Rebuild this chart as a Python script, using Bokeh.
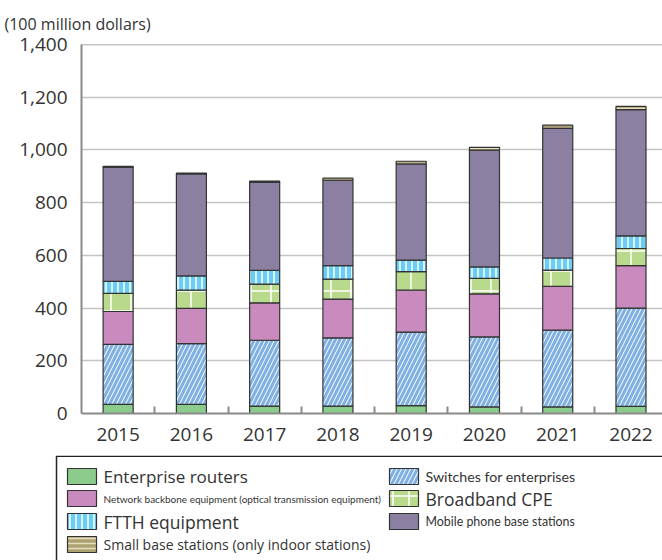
from bokeh.plotting import figure
from bokeh.models import ColumnDataSource, FixedTicker, NumeralTickFormatter, Range1d, Span
from bokeh.embed import file_html
from bokeh.resources import INLINE
from bokeh.core.properties import value

# ---------------- data ----------------
years = ["2015", "2016", "2017", "2018", "2019", "2020", "2021", "2022"]
enterprise_routers = [35, 35, 28, 28, 30, 25, 25, 27]
switches_for_enterprises = [227, 230, 250, 259, 279, 266, 291, 373]
network_backbone = [125, 134, 142, 147, 159, 163, 166, 161]
broadband_cpe = [69, 69, 71, 76, 70, 59, 62, 65]
ftth_equipment = [45, 54, 52, 51, 44, 43, 46, 48]
mobile_base_stations = [434, 387, 334, 324, 365, 443, 492, 479]
small_base_stations = [3, 3, 5, 8, 10, 11, 12, 12]
y_ticks = [0, 200, 400, 600, 800, 1000, 1200, 1400]
unit_label = "(100 million dollars)"
series_labels = [
    "Enterprise routers",
    "Switches for enterprises",
    "Network backbone equipment (optical transmission equipment)",
    "Broadband CPE",
    "FTTH equipment",
    "Mobile phone base stations",
    "Small base stations (only indoor stations)",
]

FONT = "Open Sans"
NARROW = "Lato"
TXT = "#333333"

# ---------------- styles ----------------
keys = ["routers", "switches", "backbone", "broadband", "ftth", "mobile", "small"]
fills = ["#8bcb8c", "#80b1e2", "#c98bbe", "#b9da8d", "#6acdf5", "#8b80a1", "#ada272"]
hatches = [" ", "/", " ", "+", "|", " ", "-"]
hatch_colors = ["white", "white", "white", "white", "white", "white", "#e6dfbd"]
hatch_scales = [6, 9, 6, 20, 6, 6, 5]
hatch_weights = [1, 1, 1, 1.5, 1.5, 1, 1.5]

src = ColumnDataSource(dict(
    x=list(range(len(years))),
    routers=enterprise_routers,
    switches=switches_for_enterprises,
    backbone=network_backbone,
    broadband=broadband_cpe,
    ftth=ftth_equipment,
    mobile=mobile_base_stations,
    small=small_base_stations,
))

p = figure(width=662, height=455, x_range=Range1d(-0.5, 7.43), y_range=Range1d(0, 1400),
           toolbar_location=None, output_backend="svg",
           min_border_left=81, min_border_right=0, min_border_top=43, min_border_bottom=42)
p.outline_line_color = None
p.background_fill_color = "white"
p.border_fill_color = "white"

p.vbar_stack(keys, x="x", width=0.41, source=src,
             fill_color=fills, line_color="#333333", line_width=1.2,
             hatch_pattern=hatches, hatch_color=hatch_colors,
             hatch_scale=hatch_scales, hatch_weight=hatch_weights)

# y axis
p.yaxis.ticker = FixedTicker(ticks=y_ticks)
p.yaxis.formatter = NumeralTickFormatter(format="0,0")
p.yaxis.major_tick_line_color = None
p.yaxis.minor_tick_line_color = None
p.yaxis.axis_line_color = "#8a8a8a"
p.yaxis.axis_line_width = 2
p.yaxis.major_label_text_font = FONT
p.yaxis.major_label_text_font_size = "19px"
p.yaxis.major_label_text_color = TXT
p.yaxis.major_label_standoff = 8

# x axis
p.xaxis.ticker = FixedTicker(ticks=list(range(len(years))),
                             minor_ticks=[i + 0.5 for i in range(len(years))])
p.xaxis.major_label_overrides = {i: y for i, y in enumerate(years)}
p.xaxis.major_tick_line_color = None
p.xaxis.minor_tick_in = 7
p.xaxis.minor_tick_out = 0
p.xaxis.minor_tick_line_color = "#8a8a8a"
p.xaxis.minor_tick_line_width = 2
p.xaxis.axis_line_color = "#8a8a8a"
p.xaxis.axis_line_width = 2
p.xaxis.major_label_text_font = FONT
p.xaxis.major_label_text_font_size = "19px"
p.xaxis.major_label_text_color = TXT
p.xaxis.major_label_standoff = 8

p.xgrid.grid_line_color = None
p.ygrid.grid_line_color = "#c4c4c4"
p.ygrid.grid_line_width = 1.5
p.add_layout(Span(location=y_ticks[-1], dimension="width", line_color="#8a8a8a", line_width=1.5))

p.title.text = unit_label
p.title.align = "left"
p.title.offset = -77
p.title.standoff = 20
p.title.text_font = FONT
p.title.text_font_style = "normal"
p.title.text_font_size = "16px"
p.title.text_color = TXT

# ---------------- legend (separate panel, separate root) ----------------
leg = figure(width=662, height=105, x_range=Range1d(0, 662), y_range=Range1d(105, 0),
             x_axis_type=None, y_axis_type=None, toolbar_location=None,
             output_backend="svg", min_border=0,
             min_border_left=0, min_border_right=0, min_border_top=0, min_border_bottom=0)
leg.outline_line_color = None
leg.quad(left=[56], right=[720], top=[0.75], bottom=[300], fill_color=None,
         line_color="#222222", line_width=1.5)

# legend entries: (series index, column, row, font, font size)
legend_layout = [
    (0, 0, 0, FONT, "17px"),
    (2, 0, 1, NARROW, "10px"),
    (4, 0, 2, FONT, "17.5px"),
    (6, 0, 3, FONT, "14px"),
    (1, 1, 0, NARROW, "14.2px"),
    (3, 1, 1, FONT, "17.5px"),
    (5, 1, 2, NARROW, "12.4px"),
]
col_x = [67, 389]
row_y = [21, 43, 66, 89]
for idx, c, r, fnt, fs in legend_layout:
    x0 = col_x[c]
    yc = row_y[r]
    leg.quad(left=[x0], right=[x0 + 29], top=[yc - 8], bottom=[yc + 8],
             fill_color=fills[idx], line_color="#333333", line_width=1.2,
             hatch_pattern=hatches[idx], hatch_color=hatch_colors[idx],
             hatch_scale=hatch_scales[idx] if idx != 3 else 16, hatch_weight=hatch_weights[idx])
    leg.text(x=[x0 + 36], y=[yc], text=[series_labels[idx]], text_font=value(fnt),
             text_font_size=value(fs), text_color=TXT, text_baseline="middle", text_align="left")

open("out.html", "w").write(file_html([p, leg], INLINE))
